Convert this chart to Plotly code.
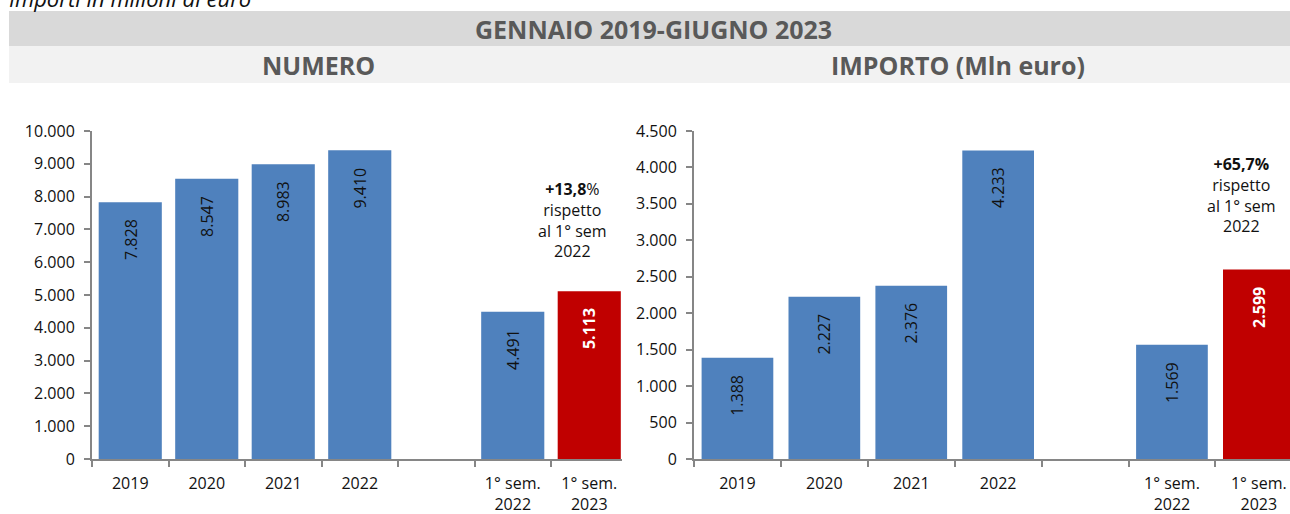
import plotly.graph_objects as go

categories = ["2019", "2020", "2021", "2022", " ", "1° sem.<br>2022", "1° sem.<br>2023"]
numero_cat = ["2019", "2020", "2021", "2022", "1° sem.<br>2022"]
numero_val = [7828, 8547, 8983, 9410, 4491]
numero_last_cat = "1° sem.<br>2023"
numero_last_val = 5113

importo_cat = ["2019", "2020", "2021", "2022", "1° sem.<br>2022"]
importo_val = [1388, 2227, 2376, 4233, 1569]
importo_last_cat = "1° sem.<br>2023"
importo_last_val = 2599

numero_ticks = [0, 1000, 2000, 3000, 4000, 5000, 6000, 7000, 8000, 9000, 10000]
importo_ticks = [0, 500, 1000, 1500, 2000, 2500, 3000, 3500, 4000, 4500]

title_main = "GENNAIO 2019-GIUGNO 2023"
title_left = "NUMERO"
title_right = "IMPORTO (Mln euro)"
top_note = "Importi in milioni di euro"
note_left = "<b>+13,8</b>%<br>rispetto<br>al 1° sem<br>2022"
note_right = "<b>+65,7%</b><br>rispetto<br>al 1° sem<br>2022"

W, H = 1290, 514
BLUE = "#4F81BD"
RED = "#C00000"
FONT = "Open Sans"
AX = "#868686"


def fmt(v):
    return f"{v:,}".replace(",", ".")


def px(x):
    return x / W


def py(y):
    return (H - y) / H


fig = go.Figure()

fig.add_trace(go.Bar(x=numero_cat, y=numero_val, marker_color=BLUE, xaxis="x", yaxis="y",
                     showlegend=False, hoverinfo="skip"))
fig.add_trace(go.Bar(x=[numero_last_cat], y=[numero_last_val], marker_color=RED, xaxis="x", yaxis="y",
                     showlegend=False, hoverinfo="skip"))
fig.add_trace(go.Bar(x=importo_cat, y=importo_val, marker_color=BLUE, xaxis="x2", yaxis="y2",
                     showlegend=False, hoverinfo="skip"))
fig.add_trace(go.Bar(x=[importo_last_cat], y=[importo_last_val], marker_color=RED, xaxis="x2", yaxis="y2",
                     showlegend=False, hoverinfo="skip"))

annotations = []
for cats, vals, lc, lv, xr, yr in [
    (numero_cat, numero_val, numero_last_cat, numero_last_val, "x", "y"),
    (importo_cat, importo_val, importo_last_cat, importo_last_val, "x2", "y2"),
]:
    for c, v in zip(cats, vals):
        annotations.append(dict(x=categories.index(c), y=v, xref=xr, yref=yr, text=fmt(v), textangle=-90,
                                showarrow=False, yanchor="top", xanchor="center", yshift=-15,
                                font=dict(family=FONT, size=16, color="#111111")))
    annotations.append(dict(x=categories.index(lc), y=lv, xref=xr, yref=yr, text="<b>" + fmt(lv) + "</b>",
                            textangle=-90, showarrow=False, yanchor="top", xanchor="center", yshift=-15,
                            font=dict(family=FONT, size=16, color="white")))

annotations.append(dict(x=5.78, y=7300, xref="x", yref="y", text=note_left, showarrow=False,
                        align="center", xanchor="center", yanchor="middle",
                        font=dict(family=FONT, size=16, color="#111111")))
annotations.append(dict(x=5.8, y=3620, xref="x2", yref="y2", text=note_right, showarrow=False,
                        align="center", xanchor="center", yanchor="middle",
                        font=dict(family=FONT, size=16, color="#111111")))

annotations.append(dict(x=px(653), y=py(29), xref="paper", yref="paper", text="<b>" + title_main + "</b>",
                        showarrow=False, xanchor="center", yanchor="middle",
                        font=dict(family=FONT, size=25, color="#595959")))
annotations.append(dict(x=px(318), y=py(65), xref="paper", yref="paper", text="<b>" + title_left + "</b>",
                        showarrow=False, xanchor="center", yanchor="middle",
                        font=dict(family=FONT, size=25, color="#595959")))
annotations.append(dict(x=px(958), y=py(65), xref="paper", yref="paper", text="<b>" + title_right + "</b>",
                        showarrow=False, xanchor="center", yanchor="middle",
                        font=dict(family=FONT, size=25, color="#595959")))
annotations.append(dict(x=px(7), y=py(-2), xref="paper", yref="paper", text="<i>" + top_note + "</i>",
                        xanchor="left", yanchor="middle", showarrow=False,
                        font=dict(family=FONT, size=22, color="#111111")))

shapes = [
    dict(type="rect", xref="paper", yref="paper", x0=px(9), x1=1, y0=py(46), y1=py(11),
         fillcolor="#d9d9d9", line_width=0, layer="below"),
    dict(type="rect", xref="paper", yref="paper", x0=px(9), x1=1, y0=py(83), y1=py(46),
         fillcolor="#f2f2f2", line_width=0, layer="below"),
]

xaxis_common = dict(type="category", categoryorder="array", categoryarray=categories,
                    tickson="boundaries", ticks="outside", ticklen=6, tickcolor=AX, tickwidth=1.5,
                    showline=True, linecolor=AX, linewidth=2, showgrid=False, zeroline=False,
                    automargin=False, ticklabelstandoff=9,
                    tickfont=dict(family=FONT, size=16, color="#111111"), fixedrange=True)
yaxis_common = dict(ticks="outside", ticklen=6, tickcolor=AX, tickwidth=1.5, showline=True,
                    linecolor=AX, linewidth=2, showgrid=False, zeroline=False, tickformat=",d",
                    automargin=False,
                    tickfont=dict(family=FONT, size=16, color="#111111"), ticklabelstandoff=6,
                    fixedrange=True)

fig.update_layout(
    template="none",
    width=W, height=H, margin=dict(l=0, r=0, t=0, b=0, autoexpand=False),
    paper_bgcolor="white", plot_bgcolor="white",
    separators=",.", bargap=0.175, showlegend=False,
    xaxis=dict(domain=[px(92), px(622)], range=[-0.5, -0.5 + 530 / 76.5], anchor="y", **xaxis_common),
    yaxis=dict(domain=[py(459), py(131)], range=[0, 10000], tickvals=numero_ticks, anchor="x", **yaxis_common),
    xaxis2=dict(domain=[px(694), 1], range=[-0.5, -0.5 + 596 / 86.9], anchor="y2", **xaxis_common),
    yaxis2=dict(domain=[py(459), py(131)], range=[0, 4500], tickvals=importo_ticks, anchor="x2", **yaxis_common),
    annotations=annotations, shapes=shapes,
)

fig.write_html("out.html", config={"displayModeBar": False},
               post_script="document.body.style.margin='0';document.body.style.overflow='hidden';")
